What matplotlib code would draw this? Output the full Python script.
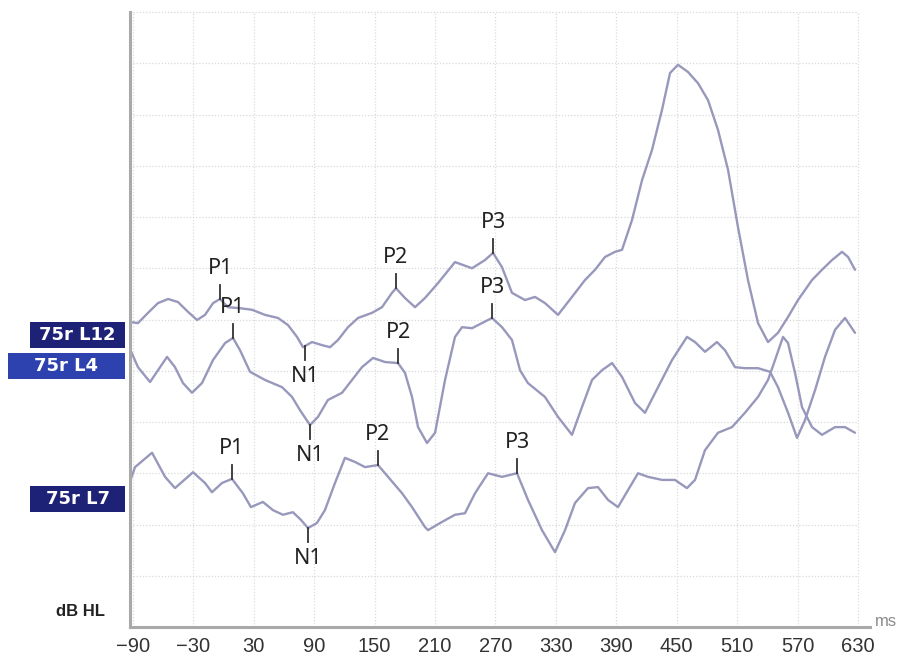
import numpy as np
import matplotlib
matplotlib.use('Agg')
import matplotlib.pyplot as plt
from matplotlib.patches import Rectangle

# latency (ms) and amplitude (grid units)
t_l12 = [-92.5, -85.1, -75.1, -65.2, -55.2, -45.3, -35.4, -26.4, -18.5, -10.5, -3.6, 4.3, 16.3,
         28.2, 41.1, 54.0, 64.0, 72.9, 78.8, 87.8, 97.7, 105.7, 113.6, 123.5, 133.5, 147.4,
         157.3, 167.2, 171.2, 180.1, 190.1, 200.0, 212.9, 229.8, 246.7, 259.6, 267.6, 276.5,
         286.4, 299.3, 309.3, 319.2, 332.1, 346.0, 358.9, 368.9, 378.8, 388.7, 395.7, 405.6,
         415.6, 425.5, 435.4, 443.4, 451.3, 461.2, 471.2, 481.1, 491.0, 501.0, 510.9, 520.8,
         530.8, 540.7, 550.6, 560.6, 570.5, 584.4, 594.3, 604.3, 614.2, 620.2, 627.1]
v_l12 = [5.95, 5.93, 6.13, 6.32, 6.40, 6.34, 6.15, 5.99, 6.09, 6.32, 6.40, 6.24, 6.22,
         6.19, 6.09, 6.03, 5.89, 5.66, 5.46, 5.56, 5.50, 5.46, 5.60, 5.85, 6.03, 6.13,
         6.24, 6.52, 6.61, 6.42, 6.24, 6.42, 6.71, 7.12, 7.00, 7.16, 7.30, 7.02,
         6.52, 6.38, 6.44, 6.32, 6.09, 6.44, 6.77, 6.97, 7.22, 7.32, 7.36, 7.94,
         8.72, 9.31, 10.09, 10.81, 10.97, 10.83, 10.61, 10.28, 9.70, 8.92, 7.80, 6.77,
         5.93, 5.56, 5.74, 6.05, 6.38, 6.77, 6.97, 7.16, 7.32, 7.22, 6.97]

t_l4 = [-92.5, -85.1, -73.1, -65.2, -56.2, -48.3, -40.4, -31.4, -21.5, -10.5, 1.4, 9.3, 16.3,
        26.2, 41.1, 58.0, 67.9, 75.9, 85.8, 93.7, 103.6, 117.6, 127.5, 137.4, 148.4, 160.3,
        173.2, 180.1, 187.1, 193.1, 202.0, 210.0, 219.9, 229.8, 236.8, 246.7, 256.6, 266.6,
        276.5, 286.4, 294.4, 302.2, 319.1, 332.1, 346.0, 355.9, 365.9, 375.8, 385.8, 395.7,
        408.6, 418.5, 431.5, 445.4, 460.2, 468.2, 478.1, 490.0, 498.0, 507.9, 517.9, 530.8,
        542.7, 550.6, 560.6, 569.5, 577.5, 587.4, 597.3, 607.3, 617.2, 627.1]
v_l4 = [5.40, 5.07, 4.78, 5.01, 5.27, 5.07, 4.76, 4.57, 4.76, 5.21, 5.54, 5.64, 5.40,
        4.98, 4.82, 4.68, 4.49, 4.23, 3.94, 4.10, 4.43, 4.57, 4.82, 5.07, 5.25, 5.17,
        5.15, 4.96, 4.49, 3.90, 3.59, 3.79, 4.82, 5.66, 5.85, 5.83, 5.93, 6.03,
        5.85, 5.60, 5.01, 4.76, 4.49, 4.10, 3.75, 4.29, 4.82, 5.01, 5.15, 4.88,
        4.37, 4.18, 4.68, 5.21, 5.66, 5.56, 5.37, 5.56, 5.40, 5.07, 5.05, 5.05,
        4.98, 4.68, 4.18, 3.69, 4.04, 4.62, 5.27, 5.80, 6.03, 5.74]

t_l7 = [-92.5, -88.0, -71.1, -58.2, -48.3, -30.4, -18.5, -11.6, -1.6, 8.3, 19.1, 27.1, 39.0,
        49.0, 58.9, 68.8, 76.8, 83.8, 92.7, 100.6, 110.6, 120.5, 130.5, 140.4, 153.3, 163.3,
        177.2, 187.1, 200.0, 203.0, 216.9, 229.8, 239.7, 249.7, 262.6, 276.5, 291.4, 302.3,
        316.2, 329.1, 339.1, 349.0, 361.9, 371.8, 381.8, 391.7, 401.6, 411.6, 421.5, 435.4,
        448.3, 460.2, 468.2, 478.1, 491.0, 504.9, 517.8, 530.8, 540.7, 547.7, 555.6, 560.6,
        567.5, 574.5, 584.4, 594.3, 607.3, 617.2, 627.1]
v_l7 = [2.87, 3.12, 3.40, 2.93, 2.71, 3.02, 2.81, 2.63, 2.81, 2.89, 2.61, 2.34, 2.44,
        2.28, 2.19, 2.24, 2.09, 1.93, 2.03, 2.28, 2.81, 3.30, 3.22, 3.12, 3.16, 2.93,
        2.61, 2.34, 1.95, 1.89, 2.05, 2.19, 2.22, 2.61, 3.00, 2.93, 3.00, 2.48,
        1.89, 1.46, 1.89, 2.42, 2.71, 2.73, 2.48, 2.34, 2.67, 3.00, 2.93, 2.87,
        2.87, 2.71, 2.87, 3.45, 3.79, 3.90, 4.18, 4.49, 4.82, 5.21, 5.66, 5.54,
        4.96, 4.29, 3.90, 3.75, 3.90, 3.90, 3.79]

# peak markers: name and latency per trace
peak_names = ['P1', 'N1', 'P2', 'P3']
peaks_l12 = [-3.6, 80.8, 171.2, 267.6]
peaks_l4 = [9.3, 85.8, 173.2, 266.6]
peaks_l7 = [8.3, 83.8, 153.3, 291.4]

trace_names = ['75r L12', '75r L4', '75r L7']
x_ticks = list(range(-90, 631, 60))

line_col = '#9898bc'
txt_col = '#222222'

fig = plt.figure(figsize=(9.08, 6.55), dpi=100)
W, H = 908, 655
ax = fig.add_axes([130 / W, 28 / H, 740 / W, 615 / H])
ax.set_xlim(-93, 642)
ax.set_ylim(0, 12)

# dotted grid
ax.hlines(range(1, 13), -93, 630, colors='#d9d9d9', linestyles=(0, (1, 1.5)), lw=0.9,
          clip_on=False, zorder=0)
ax.vlines(x_ticks, 0, 12, colors='#dcdcdc', linestyles=(0, (1, 1.5)), lw=0.9, zorder=0)

traces = [(t_l12, v_l12, peaks_l12), (t_l4, v_l4, peaks_l4), (t_l7, v_l7, peaks_l7)]
for t, v, peaks in traces:
    ax.plot(t, v, color=line_col, lw=1.7, solid_joinstyle='round', solid_capstyle='round',
            zorder=2)
    for name, lat in zip(peak_names, peaks):
        y0 = np.interp(lat, t, v)
        sgn = -1 if name.startswith('N') else 1
        ax.plot([lat, lat], [y0, y0 + sgn * 0.27], color='#333333', lw=1.3, zorder=3)
        ax.text(lat, y0 + sgn * 0.6, name, ha='center', va='center', fontsize=15.5,
                color=txt_col, family='Noto Sans', zorder=4)

for s in ['top', 'right']:
    ax.spines[s].set_visible(False)
for s in ['left', 'bottom']:
    ax.spines[s].set_color('#a9a9a9')
    ax.spines[s].set_linewidth(2.2)

ax.set_yticks([])
ax.set_xticks(x_ticks)
ax.set_xticklabels([str(x).replace('-', '\u2212') for x in x_ticks])
ax.tick_params(axis='x', length=0, pad=7, labelsize=14.5, labelcolor='#333333')
for lb in ax.get_xticklabels():
    lb.set_family(['Liberation Sans Narrow', 'Liberation Sans'])

fig.text(81 / W, 1 - 612 / H, 'dB HL', ha='center', va='center', fontsize=12,
         fontweight='bold', color=txt_col, family=['Liberation Sans Narrow', 'Liberation Sans'])
fig.text(886 / W, 1 - 621 / H, 'ms', ha='center', va='center', fontsize=12,
         color='#8a8a8a', family=['Liberation Sans Narrow', 'Liberation Sans'])

# channel labels on the left
boxes = [(30, 322, '#1e2276'), (8, 353, '#2d42ae'), (30, 486, '#1e2276')]
for (bx, by, bc), name in zip(boxes, trace_names):
    fig.patches.append(Rectangle((bx / W, 1 - (by + 26) / H), (125 - bx) / W, 26 / H,
                                 transform=fig.transFigure, facecolor=bc, edgecolor='none'))
    fig.text((bx + 125) / 2 / W, 1 - (by + 13) / H, name, ha='center', va='center',
             fontsize=13, fontweight='bold', color='white', family='DejaVu Sans')

fig.savefig('out.png', dpi=100)
